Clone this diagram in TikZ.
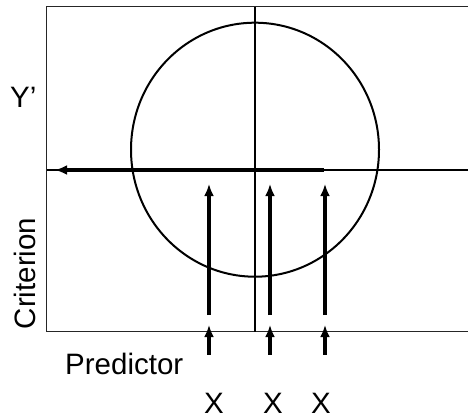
\documentclass[tikz,border=0pt]{standalone}
\usepackage{fontspec}
\setmainfont{Liberation Sans}
\usetikzlibrary{arrows.meta}

\begin{document}
\begin{tikzpicture}[x=1pt, y=-1pt,
  frame/.style={line width=1pt, draw=black!85},
  axis/.style={line width=1.8pt},
  thickarrow/.style={-{Latex[length=12pt, width=10pt]}, line width=3.5pt},
  lbl/.style={inner sep=0pt, font=\fontsize{29.5}{34}\selectfont},
]
\useasboundingbox (0,0) rectangle (468,418);

% frame and axes
\coordinate (tr) at (470,6.7);
\coordinate (tl) at (46.7,6.7);
\coordinate (bl) at (46.7,331.7);
\coordinate (br) at (470,331.7);
\draw[frame] (tr) -- (tl) -- (bl) -- (br);
\coordinate (vtop) at (255,6.7);
\coordinate (vbot) at (255,331.7);
\draw[axis] (vtop) -- (vbot);
\coordinate (hleft) at (46.7,170);
\coordinate (hright) at (470,170);
\draw[axis] (hleft) -- (hright);

\draw[axis, line width=2pt] (255,149.7) ellipse [x radius=124, y radius=127];

% regression arrow
\coordinate (yend) at (324,170);
\coordinate (ytip) at (55,170);
\draw[thickarrow] (yend) -- (ytip);

% predictor arrows
\foreach \n/\x in {a/209,b/270,c/325} {
  \coordinate (low\n) at (\x,315);
  \coordinate (tip\n) at (\x,184);
  \coordinate (in\n) at (\x,354.5);
  \coordinate (top\n) at (\x,325);
  \draw[thickarrow] (low\n) -- (tip\n);
  \draw[thickarrow] (in\n) -- (top\n);
}

\node[lbl, anchor=base west] (yhat) at (10,107) {Y’};
\node[lbl, anchor=base, rotate=90] (crit) at (35,273.5) {Criterion};
\node[lbl, anchor=base west] (pred) at (65,374.3) {Predictor};
\node[lbl, anchor=base] (xa) at (214,413) {X};
\node[lbl, anchor=base] (xb) at (273,413) {X};
\node[lbl, anchor=base] (xc) at (321,413) {X};
\end{tikzpicture}
\end{document}
